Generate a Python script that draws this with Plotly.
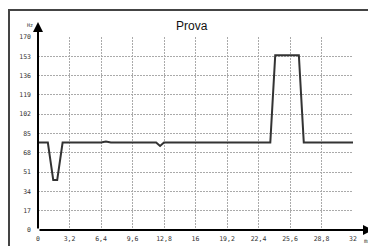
import plotly.graph_objects as go

t_values = [0, 1.0, 1.55, 1.95, 2.5, 4.0, 6.4, 6.9, 7.4, 12.0, 12.4, 12.8, 23.6, 24.1, 26.5, 27.0, 32]
hz_values = [77, 77, 44, 44, 77, 77, 77, 78, 77, 77, 74, 77, 77, 154, 154, 77, 77]

x_ticks = [0, 3.2, 6.4, 9.6, 12.8, 16, 19.2, 22.4, 25.6, 28.8, 32]
x_labels = ["0", "3,2", "6,4", "9,6", "12,8", "16", "19,2", "22,4", "25,6", "28,8", "32"]
y_ticks = [0, 17, 34, 51, 68, 85, 102, 119, 136, 153, 170]
y_labels = [str(v) for v in y_ticks]

# page body has an 8px margin: figure occupies window from (8,8) to (376,246)
OFF = 8
W, H = 376 - OFF, 246 - OFF
# plot area in window pixels: x 38..353, y 37..230
L, R, T, B = 38 - OFF, 376 - 353, 37 - OFF, 246 - 230
pw, ph = W - L - R, H - T - B

fig = go.Figure()
fig.add_trace(go.Scatter(x=t_values, y=hz_values, mode="lines",
                         line=dict(color="#333333", width=2), showlegend=False))

tick_font = dict(family="DejaVu Sans Mono", size=6.5, color="#333333")
grid = dict(showgrid=True, gridcolor="#aaaaaa", gridwidth=1, griddash="2px,1px",
            zeroline=False, showline=False, ticks="", tickfont=tick_font, automargin=False)

fig.update_layout(
    width=W, height=H,
    margin=dict(l=L, r=R, t=T, b=B, pad=0, autoexpand=False),
    paper_bgcolor="white", plot_bgcolor="white",
    xaxis=dict(range=[0, 32], tickvals=x_ticks, ticktext=x_labels,
               ticklabelstandoff=3, **grid),
    yaxis=dict(range=[0, 170], tickvals=y_ticks, ticktext=y_labels,
               ticklabelstandoff=6, **grid),
)

# window pixel -> paper coords
def px_x(p):
    return (p - OFF - L) / pw

def px_y(p):
    return (H - B - (p - OFF)) / ph

# frame
fig.add_shape(type="rect", xref="paper", yref="paper",
              x0=px_x(9), x1=px_x(390), y0=px_y(260), y1=px_y(10),
              line=dict(color="#444444", width=2), fillcolor="rgba(0,0,0,0)", layer="above")

# axes with arrows
fig.add_annotation(xref="paper", yref="paper", x=px_x(373), y=0,
                   ax=-(373 - 38), ay=0, axref="pixel", ayref="pixel",
                   showarrow=True, arrowhead=2, arrowsize=1, arrowwidth=2,
                   arrowcolor="black", text="")
fig.add_annotation(xref="paper", yref="paper", x=0, y=px_y(22),
                   ax=0, ay=(230 - 22), axref="pixel", ayref="pixel",
                   showarrow=True, arrowhead=2, arrowsize=1, arrowwidth=2,
                   arrowcolor="black", text="")

# title and units
fig.add_annotation(xref="paper", yref="paper", x=px_x(192), y=px_y(26),
                   xanchor="center", yanchor="middle",
                   text="Prova", showarrow=False,
                   font=dict(family="Liberation Sans", size=12, color="#111111"))
fig.add_annotation(xref="paper", yref="paper", x=px_x(30), y=px_y(25),
                   xanchor="center", yanchor="middle",
                   text="Hz", showarrow=False, font=dict(family="DejaVu Sans Mono", size=5, color="#333333"))
fig.add_annotation(xref="paper", yref="paper", x=px_x(368), y=px_y(240),
                   xanchor="center", yanchor="middle",
                   text="ms", showarrow=False, font=dict(family="DejaVu Sans Mono", size=6, color="#333333"))

fig.write_html("out.html")
